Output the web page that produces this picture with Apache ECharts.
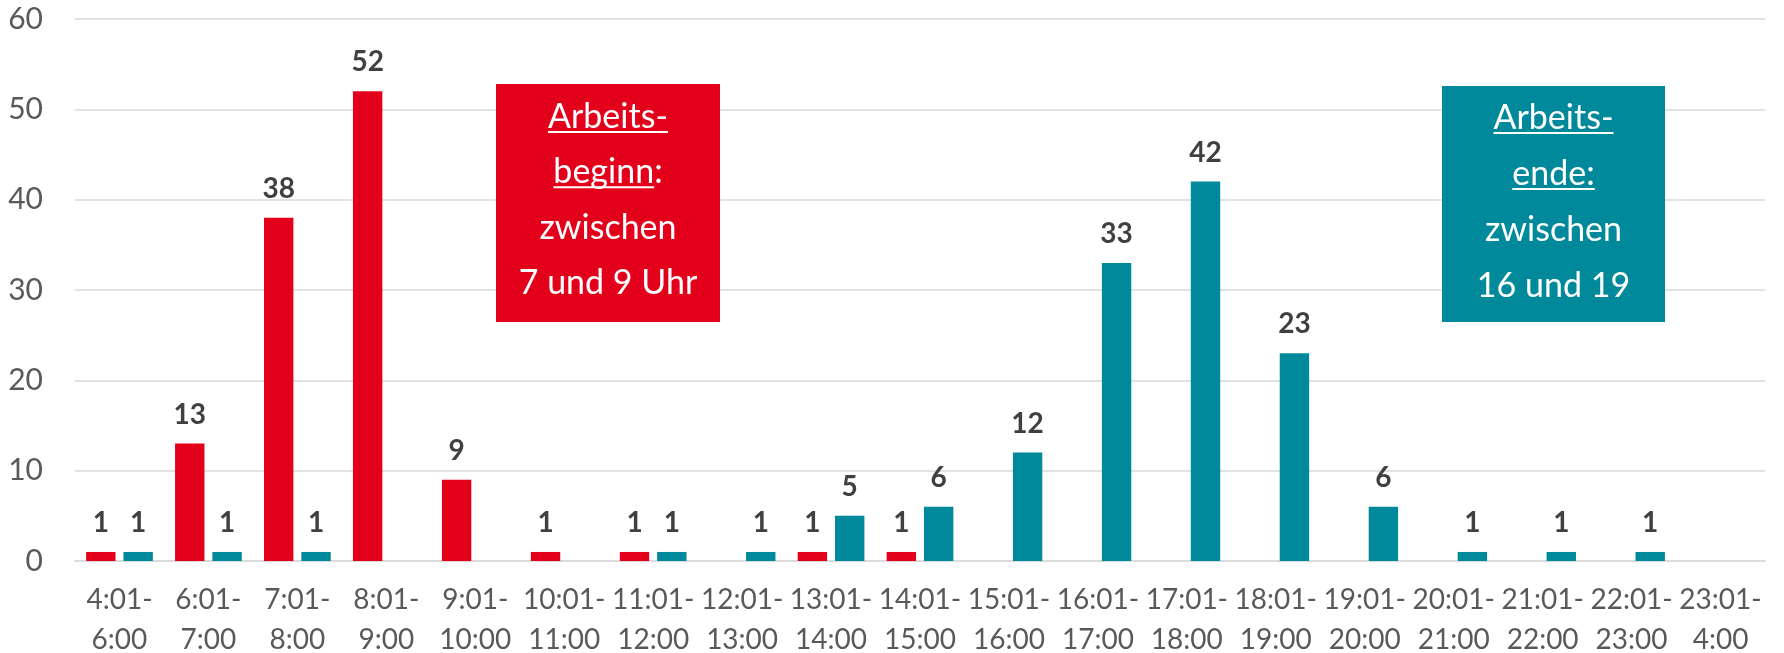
<!DOCTYPE html>
<html>
<head>
<meta charset="utf-8">
<script src="https://cdn.jsdelivr.net/npm/echarts@6/dist/echarts.min.js"></script>
<style>
  html, body { margin: 0; padding: 0; background: #fff; }
  #chart { width: 1784px; height: 653px; }
</style>
</head>
<body>
<div id="chart"></div>
<script>
const categories = [
  '4:01-\n6:00', '6:01-\n7:00', '7:01-\n8:00', '8:01-\n9:00', '9:01-\n10:00',
  '10:01-\n11:00', '11:01-\n12:00', '12:01-\n13:00', '13:01-\n14:00', '14:01-\n15:00',
  '15:01-\n16:00', '16:01-\n17:00', '17:01-\n18:00', '18:01-\n19:00', '19:01-\n20:00',
  '20:01-\n21:00', '21:01-\n22:00', '22:01-\n23:00', '23:01-\n4:00'
]
const beginnValues = [1, 13, 38, 52, 9, 1, 1, null, 1, 1, null, null, null, null, null, null, null, null, null]
const endeValues = [1, 1, 1, null, null, null, 1, 1, 5, 6, 12, 33, 42, 23, 6, 1, 1, 1, null]
const yTicks = [0, 10, 20, 30, 40, 50, 60]

// annotation text, [underlined part, rest]
const beginnNote = [['Arbeits-', ''], ['beginn', ':'], ['', 'zwischen'], ['', '7 und 9 Uhr']]
const endeNote = [['Arbeits-', ''], ['ende:', ''], ['', 'zwischen'], ['', '16 und 19']]

const RED = '#E2001A'
const TEAL = '#00899B'
const FONT = 'Lato, "Open Sans", sans-serif'
const NOTE_SIZE = 34

const measure = document.createElement('canvas').getContext('2d')
measure.font = `${NOTE_SIZE}px ${FONT}`

function noteGraphics(lines, box, fill) {
  const els = [{
    type: 'rect',
    z: 100,
    shape: { x: box.x, y: box.y, width: box.w, height: box.h },
    style: { fill },
    silent: true
  }]
  const cx = box.x + box.w / 2
  lines.forEach(([under, rest], i) => {
    const text = under + rest
    const baseline = box.firstBaseline + i * box.pitch
    els.push({
      type: 'text',
      z: 101,
      x: cx,
      y: baseline - 10,
      style: {
        text,
        fill: '#fff',
        font: `${NOTE_SIZE}px ${FONT}`,
        align: 'center',
        verticalAlign: 'middle'
      },
      silent: true
    })
    if (under) {
      const total = measure.measureText(text).width
      const w = measure.measureText(under).width
      els.push({
        type: 'rect',
        z: 101,
        shape: { x: cx - total / 2, y: baseline + 4, width: w, height: 2 },
        style: { fill: '#fff' },
        silent: true
      })
    }
  })
  return els
}

const chart = echarts.init(document.getElementById('chart'), null, { renderer: 'canvas' })

const barLabel = {
  show: true,
  position: 'top',
  distance: 15,
  fontFamily: FONT,
  fontSize: 28,
  fontWeight: 'bold',
  color: '#404040'
}

chart.setOption({
  backgroundColor: '#fff',
  animation: false,
  grid: { left: 75, right: 19, top: 19, bottom: 92, outerBoundsMode: 'none' },
  xAxis: {
    type: 'category',
    data: categories,
    axisLine: { lineStyle: { color: '#D9D9D9', width: 1.5 } },
    axisTick: { show: false },
    axisLabel: {
      interval: 0,
      color: '#595959',
      fontFamily: FONT,
      fontSize: 28,
      lineHeight: 40,
      margin: 19
    }
  },
  yAxis: {
    type: 'value',
    min: yTicks[0],
    max: yTicks[yTicks.length - 1],
    interval: yTicks[1] - yTicks[0],
    axisLine: { show: false },
    axisTick: { show: false },
    axisLabel: {
      color: '#595959',
      fontFamily: FONT,
      fontSize: 30,
      margin: 32
    },
    splitLine: { lineStyle: { color: '#D9D9D9', width: 1.5 } }
  },
  series: [
    {
      name: 'Arbeitsbeginn',
      type: 'bar',
      data: beginnValues,
      barGap: '27%',
      barCategoryGap: '25%',
      itemStyle: { color: RED },
      label: barLabel
    },
    {
      name: 'Arbeitsende',
      type: 'bar',
      data: endeValues,
      itemStyle: { color: TEAL },
      label: barLabel
    }
  ],
  graphic: [
    ...noteGraphics(beginnNote, { x: 496, y: 84, w: 224, h: 238, firstBaseline: 127, pitch: 55.3 }, RED),
    ...noteGraphics(endeNote, { x: 1442, y: 86, w: 223, h: 236, firstBaseline: 128, pitch: 56 }, TEAL)
  ]
})
</script>
</body>
</html>
